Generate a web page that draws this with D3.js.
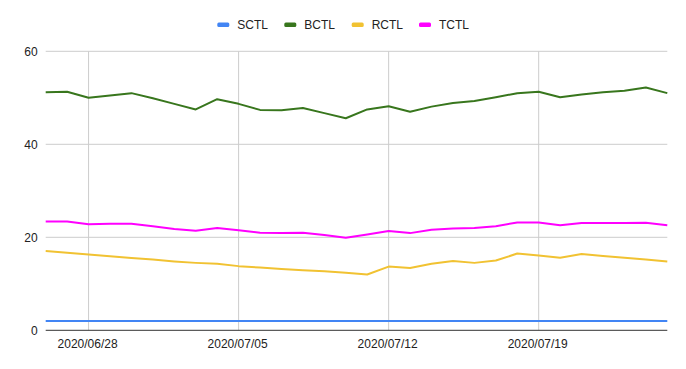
<!DOCTYPE html>
<html><head><meta charset="utf-8">
<script src="https://cdn.jsdelivr.net/npm/d3@7"></script>
<style>body{margin:0;background:#fff;} svg{display:block;font-family:Arial,"Liberation Sans",sans-serif;}</style>
</head><body>
<svg id="c" width="686" height="369"></svg>
<script>
const startDate = "2020-06-26";
const dayCount = 30;
const seriesNames = ["SCTL","BCTL","RCTL","TCTL"];
const seriesColors = ["#4285F4","#38761D","#F1C232","#FF00FF"];
const SCTL = [2,2,2,2,2,2,2,2,2,2,2,2,2,2,2,2,2,2,2,2,2,2,2,2,2,2,2,2,2,2];
const BCTL = [51.2,51.3,50.0,50.5,51.0,49.9,48.7,47.5,49.7,48.7,47.4,47.3,47.8,46.7,45.6,47.5,48.2,47.0,48.1,48.9,49.3,50.1,51.0,51.3,50.1,50.7,51.2,51.5,52.2,51.0];
const RCTL = [17.05,16.7,16.3,15.9,15.55,15.2,14.8,14.5,14.3,13.8,13.5,13.2,12.9,12.7,12.4,12.0,13.7,13.4,14.3,14.9,14.5,15.0,16.5,16.1,15.6,16.4,16.0,15.6,15.2,14.8];
const TCTL = [23.4,23.4,22.8,22.9,22.9,22.4,21.8,21.4,22.0,21.5,21.0,20.9,21.0,20.5,19.9,20.6,21.35,20.9,21.6,21.9,22.0,22.4,23.2,23.2,22.6,23.1,23.1,23.1,23.15,22.6];
const yTicks = [0,20,40,60];
const xTickDates = ["2020-06-28","2020-07-05","2020-07-12","2020-07-19"];

const parse = d3.utcParse("%Y-%m-%d");
const fmt = d3.utcFormat("%Y/%m/%d");
const t0 = parse(startDate);
const dates = d3.range(dayCount).map(i => d3.utcDay.offset(t0, i));
const allSeries = [SCTL,BCTL,RCTL,TCTL];

const svg = d3.select("#c");
const L = 45.7, R = 667.3, T = 51.3, B = 330.3;
const x = d3.scaleUtc().domain([dates[0], dates[dates.length-1]]).range([L, R]);
const y = d3.scaleLinear().domain([0,60]).range([B, T]);

// horizontal gridlines
svg.append("g").selectAll("line").data(yTicks.filter(v=>v!==0)).join("line")
  .attr("x1", L).attr("x2", R).attr("y1", d=>y(d)).attr("y2", d=>y(d))
  .attr("stroke", "#cccccc").attr("stroke-width", 1);
// vertical gridlines
const xt = xTickDates.map(parse);
svg.append("g").selectAll("line").data(xt).join("line")
  .attr("x1", d=>x(d)).attr("x2", d=>x(d)).attr("y1", T).attr("y2", B)
  .attr("stroke", "#cccccc").attr("stroke-width", 1);

// y labels
svg.append("g").selectAll("text").data(yTicks).join("text")
  .attr("x", L-8).attr("y", d=>y(d)).attr("dy","0.35em").attr("text-anchor","end")
  .attr("font-size", 12).attr("fill", "#222").text(d=>d);
// x labels
svg.append("g").selectAll("text").data(xt).join("text")
  .attr("x", d=>x(d)-1).attr("y", B+17.5).attr("text-anchor","middle")
  .attr("font-size", 12).attr("fill", "#222").text(d=>fmt(d));

// lines
const line = d3.line().x((d,i)=>x(dates[i])).y(d=>y(d));
allSeries.forEach((s,k)=>{
  svg.append("path").datum(s).attr("d", line).attr("fill","none")
    .attr("stroke", seriesColors[k]).attr("stroke-width", 2).attr("stroke-linejoin","round");
});

// baseline
svg.append("line").attr("x1", L).attr("x2", R).attr("y1", y(0)).attr("y2", y(0))
  .attr("stroke", "#333").attr("stroke-width", 1);

// legend
const legX = [217.3, 284.3, 351.7, 419];
const lg = svg.append("g");
seriesNames.forEach((n,k)=>{
  lg.append("rect").attr("x", legX[k]).attr("y", 22.5).attr("width", 12).attr("height", 4.5)
    .attr("rx", 1.5).attr("fill", seriesColors[k]);
  lg.append("text").attr("x", legX[k]+20).attr("y", 24.5).attr("dy","0.35em")
    .attr("font-size", 12).attr("fill", "#222").text(n);
});
</script>
</body></html>
